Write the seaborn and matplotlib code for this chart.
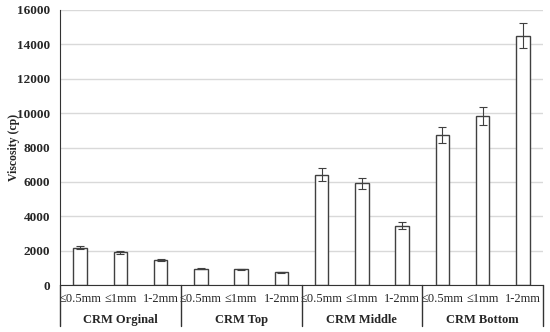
import pandas as pd
import matplotlib
matplotlib.use("Agg")
import matplotlib.pyplot as plt
import matplotlib.transforms as mtransforms
import seaborn as sns

groups = ["CRM Orginal", "CRM Top", "CRM Middle", "CRM Bottom"]
sizes = ["≤0.5mm", "≤1mm", "1-2mm"]
viscosity = [2180, 1900, 1450,
             950, 910, 740,
             6420, 5910, 3450,
             8730, 9830, 14500]
errors = [90, 90, 70,
          20, 20, 20,
          370, 330, 210,
          460, 500, 740]

df = pd.DataFrame({
    "group": [g for g in groups for s in sizes],
    "size": sizes * len(groups),
    "Viscosity": viscosity,
    "err": errors,
})
df["slot"] = df["group"] + " " + df["size"]

sns.set_style("white")
plt.rcParams["font.family"] = ["Liberation Serif", "DejaVu Serif"]

fig = plt.figure(figsize=(5.5, 3.32), dpi=100)
ax = fig.add_axes([60 / 550, 1 - 285 / 332, 483 / 550, 275 / 332])

sns.barplot(data=df, x="slot", y="Viscosity", order=df["slot"].tolist(),
            color="white", edgecolor="#404040", linewidth=1.0, width=0.33,
            errorbar=None, ax=ax)
ax.errorbar(range(len(df)), df["Viscosity"], yerr=df["err"], fmt="none",
            ecolor="#404040", elinewidth=0.8, capsize=3, capthick=0.8)

ax.set_xlim(-0.5, len(df) - 0.5)
ax.set_ylim(0, 16000)
ax.set_yticks(range(0, 16001, 2000))
ax.tick_params(axis="y", length=0, labelsize=9.5, pad=7)
for lab in ax.get_yticklabels():
    lab.set_fontweight("bold")
ax.yaxis.grid(True, color="#d9d9d9", linewidth=1)
ax.set_axisbelow(True)

ax.set_xticks(range(len(df)))
ax.set_xticklabels(df["size"], fontsize=9)
ax.tick_params(axis="x", length=0, pad=6)
ax.set_xlabel("")
ax.set_ylabel("Viscosity (cp)", fontsize=8.5, fontweight="bold")
ax.yaxis.set_label_coords(-0.083, 0.5)

for side in ["top", "right"]:
    ax.spines[side].set_visible(False)
ax.spines["left"].set_color("#333333")
ax.spines["bottom"].set_color("#333333")

trans = mtransforms.blended_transform_factory(ax.transData, ax.transAxes)
for x in [-0.5, 2.5, 5.5, 8.5, 11.5]:
    ax.plot([x, x], [0, -0.148], transform=trans, color="#333333",
            linewidth=1, clip_on=False)
for i, g in enumerate(groups):
    ax.text(i * 3 + 1, -0.128, g, transform=trans, ha="center", va="center",
            fontsize=9, fontweight="bold")

fig.savefig("out.png", dpi=100)
